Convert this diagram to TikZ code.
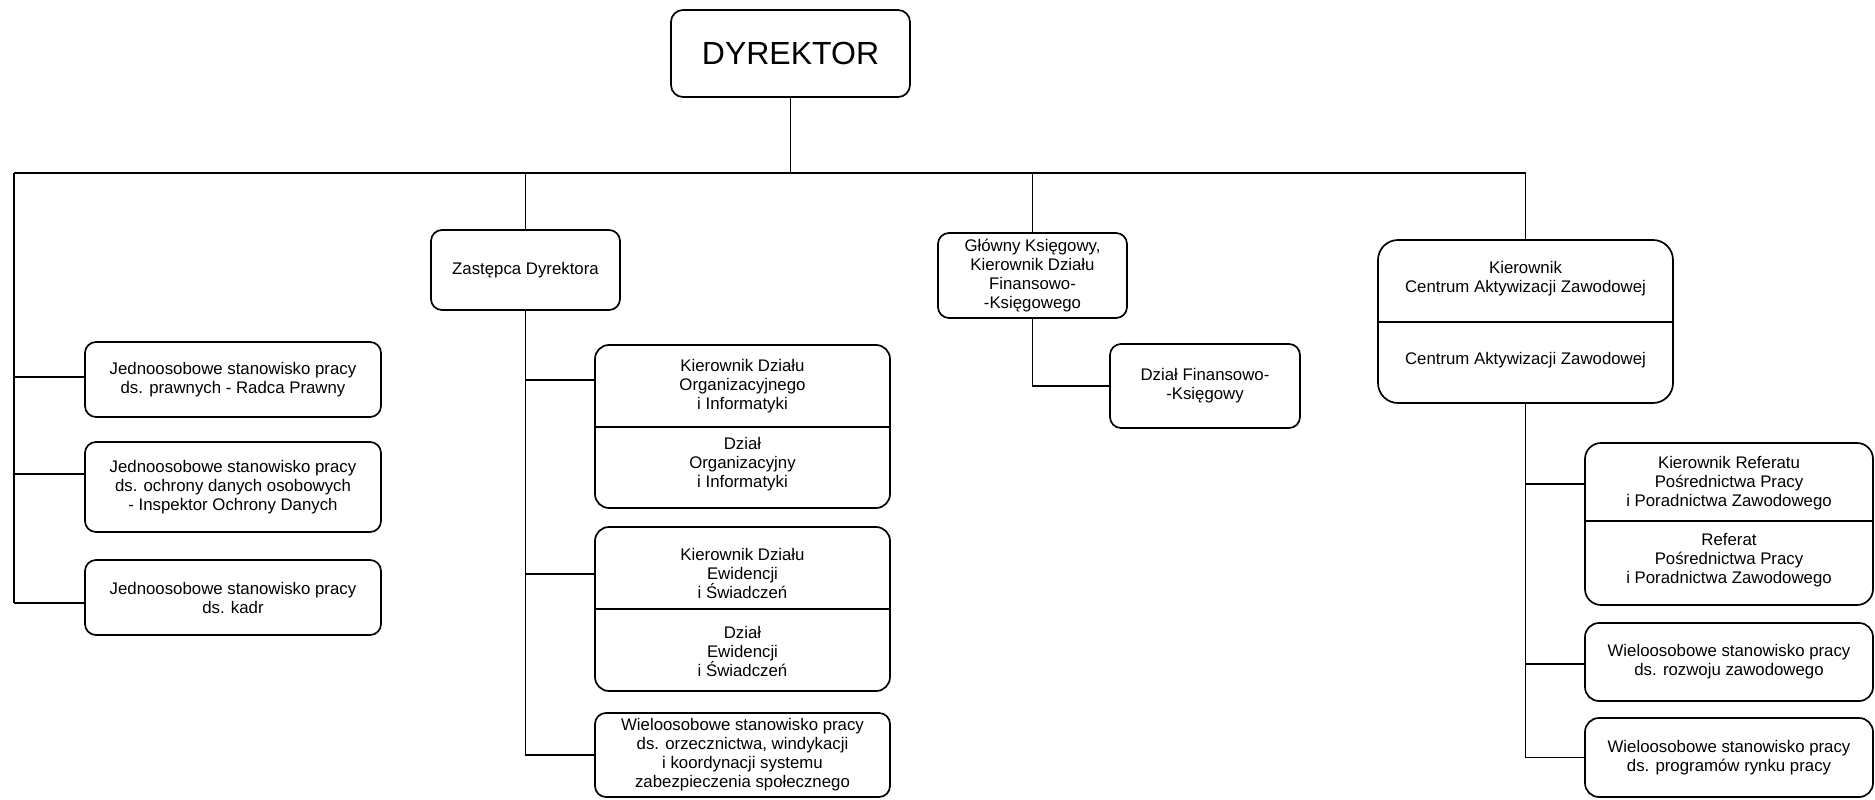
\documentclass[tikz,border=0pt]{standalone}
\usepackage{fontspec}
\setmainfont{Liberation Sans}
\begin{document}
\begin{tikzpicture}[x=1bp,y=-1bp,
  box/.style={draw, line width=1.7bp, rounded corners=11bp, inner sep=0pt},
  txt/.style={align=center, inner sep=0pt, font=\fontsize{16.8bp}{19bp}\selectfont},
  conn/.style={line width=1.5bp},
  divline/.style={line width=1.7bp}]
\useasboundingbox[fill=white] (0,0) rectangle (1875,800);

% top
\node[box, minimum width=239bp, minimum height=87bp, rounded corners=12bp,
      font=\fontsize{32bp}{36bp}\selectfont] (dyr) at (790.5,53.5) {DYREKTOR};

% second level
\node[box, txt, minimum width=189bp, minimum height=80bp] (zas) at (525.5,270) {Zastępca Dyrektora};
\node[box, txt, minimum width=189bp, minimum height=85bp] (g) at (1032.5,275.5)
  {Główny Księgowy,\\Kierownik Działu\\Finansowo-\\-Księgowego};
\node[box, minimum width=295bp, minimum height=163bp, rounded corners=20bp] (caz) at (1525.5,321.5) {};
\draw[divline] (caz.west |- 0,322) -- (caz.east |- 0,322);
\node[txt] (caza) at (1525.5,279) {Kierownik\\Centrum Aktywizacji Zawodowej};
\node[txt] (cazb) at (1525.5,360) {Centrum Aktywizacji Zawodowej};

% left column
\node[box, txt, minimum width=296bp, minimum height=75bp] (l1) at (233,379.5)
  {Jednoosobowe stanowisko pracy\\ds. prawnych - Radca Prawny};
\node[box, txt, minimum width=296bp, minimum height=90bp] (l2) at (233,487)
  {Jednoosobowe stanowisko pracy\\ds. ochrony danych osobowych\\- Inspektor Ochrony Danych};
\node[box, txt, minimum width=296bp, minimum height=75bp] (l3) at (233,597.5)
  {Jednoosobowe stanowisko pracy\\ds. kadr};

% middle column
\node[box, minimum width=295bp, minimum height=163bp, rounded corners=14bp] (m1) at (742.5,426.5) {};
\draw[divline] (m1.west |- 0,427) -- (m1.east |- 0,427);
\node[txt] (m1a) at (742.5,386) {Kierownik Działu\\Organizacyjnego\\i Informatyki};
\node[txt] (m1b) at (742.5,464) {Dział\\Organizacyjny\\i Informatyki};

\node[box, minimum width=295bp, minimum height=164bp, rounded corners=14bp] (m2) at (742.5,609) {};
\draw[divline] (m2.west |- 0,609) -- (m2.east |- 0,609);
\node[txt] (m2a) at (742.5,573) {Kierownik Działu\\Ewidencji\\i Świadczeń};
\node[txt] (m2b) at (742.5,651) {Dział\\Ewidencji\\i Świadczeń};

\node[box, txt, minimum width=295bp, minimum height=84bp] (m3) at (742.5,755)
  {Wieloosobowe stanowisko pracy\\ds. orzecznictwa, windykacji\\i koordynacji systemu\\zabezpieczenia społecznego};

% finance
\node[box, txt, minimum width=190bp, minimum height=84bp] (df) at (1205,386)
  {Dział Finansowo-\\-Księgowy};

% right column
\node[box, minimum width=288bp, minimum height=162bp, rounded corners=16bp] (r1) at (1729,524) {};
\draw[divline] (r1.west |- 0,521) -- (r1.east |- 0,521);
\node[txt] (r1a) at (1729,483) {Kierownik Referatu\\Pośrednictwa Pracy\\i Poradnictwa Zawodowego};
\node[txt] (r1b) at (1729,560) {Referat\\Pośrednictwa Pracy\\i Poradnictwa Zawodowego};
\node[box, txt, minimum width=288bp, minimum height=78bp, rounded corners=14bp] (r2) at (1729,662)
  {Wieloosobowe stanowisko pracy\\ds. rozwoju zawodowego};
\node[box, txt, minimum width=288bp, minimum height=79bp, rounded corners=14bp] (r3) at (1729,757.5)
  {Wieloosobowe stanowisko pracy\\ds. programów rynku pracy};

% bus
\coordinate (busL) at (14,173);
\coordinate (busR) at (1525.5,173);
\draw[conn] (dyr.south) -- (dyr.south |- busL);
\draw[conn] (busL) -- (busR) -- (caz.north);
\draw[conn] (zas.north) -- (zas.north |- busL);
\draw[conn] (g.north) -- (g.north |- busL);

% left trunk
\coordinate (lt1) at (14,377);
\coordinate (lt2) at (14,474);
\coordinate (lt3) at (14,603);
\draw[conn] (busL) -- (lt3);
\draw[conn] (lt1) -- (lt1 -| l1.west);
\draw[conn] (lt2) -- (lt2 -| l2.west);
\draw[conn] (lt3) -- (lt3 -| l3.west);

% middle trunk
\coordinate (zt1) at (525.5,380);
\coordinate (zt2) at (525.5,574);
\draw[conn] (zas.south) -- (zas.south |- m3.west) -- (m3.west);
\draw[conn] (zt1) -- (zt1 -| m1.west);
\draw[conn] (zt2) -- (zt2 -| m2.west);

% finance
\draw[conn] (g.south) -- (g.south |- df.west) -- (df.west);

% right trunk
\coordinate (ct1) at (1525.5,484);
\coordinate (ct2) at (1525.5,664);
\draw[conn] (caz.south) -- (caz.south |- r3.west) -- (r3.west);
\draw[conn] (ct1) -- (ct1 -| r1.west);
\draw[conn] (ct2) -- (ct2 -| r2.west);
\end{tikzpicture}
\end{document}
